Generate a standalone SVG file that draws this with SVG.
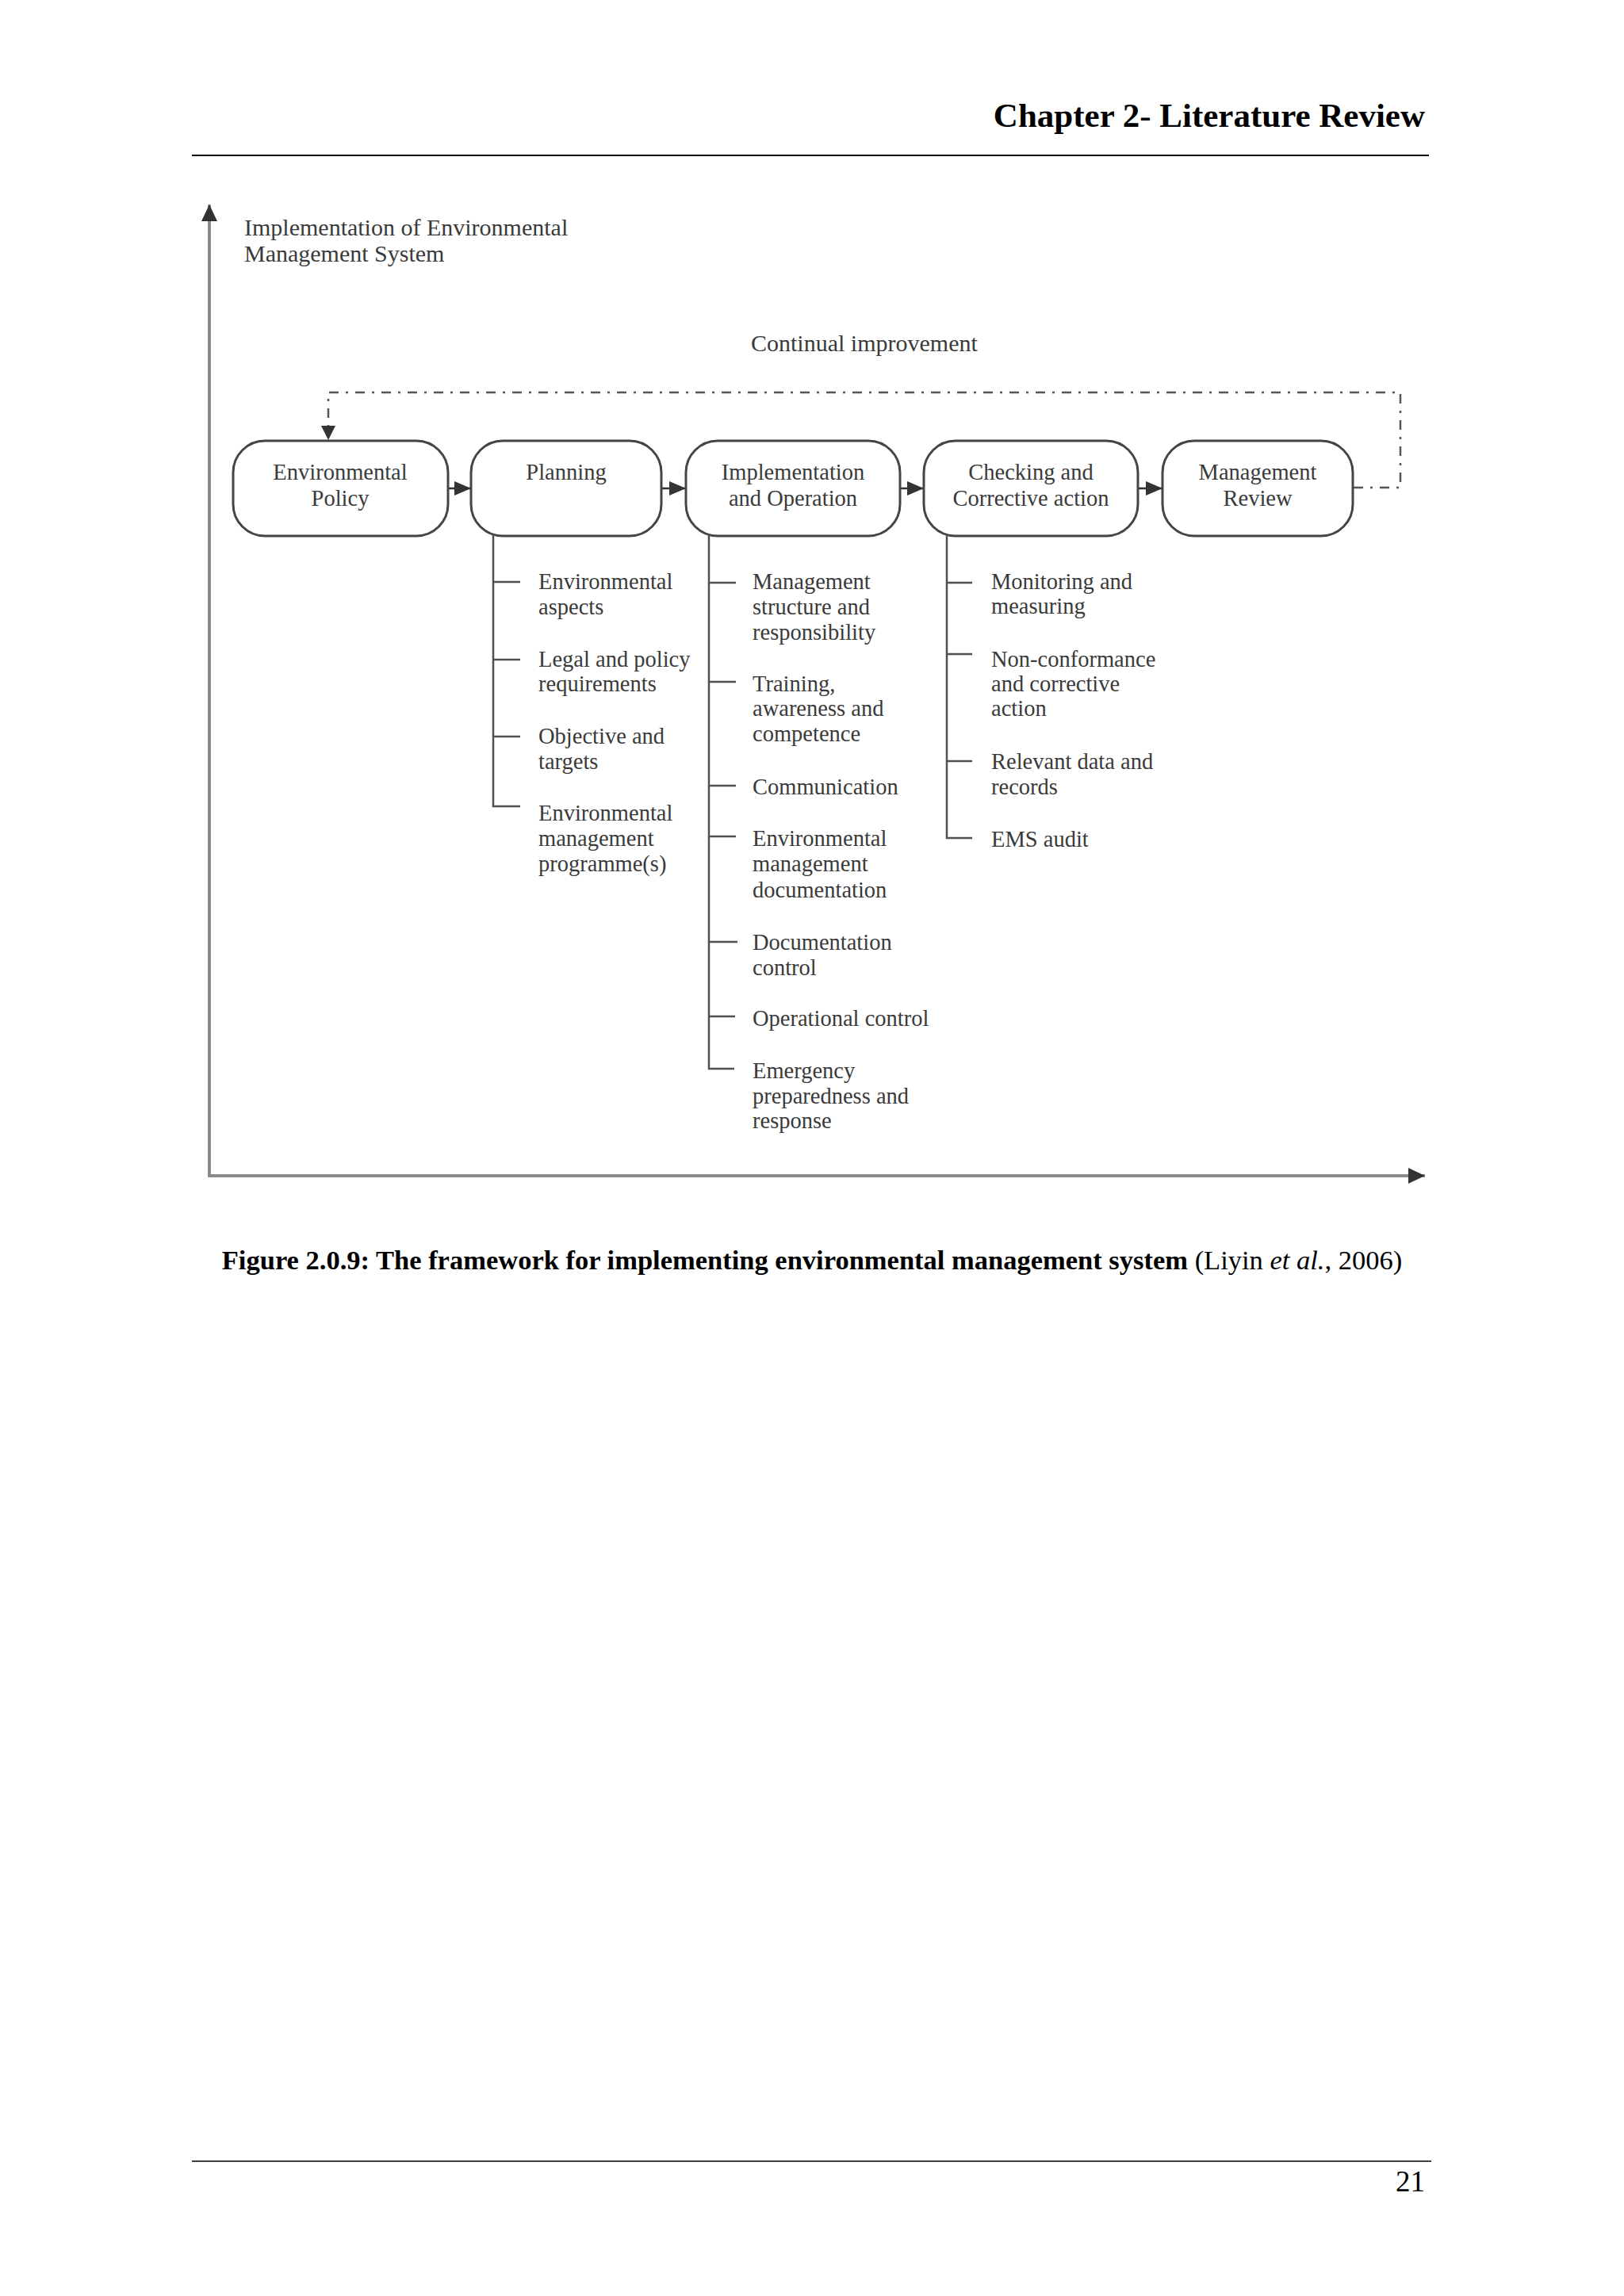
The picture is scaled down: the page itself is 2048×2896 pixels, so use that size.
<svg xmlns="http://www.w3.org/2000/svg" width="2048" height="2896" viewBox="0 0 2048 2896">
<style>
.page{font-family:"Liberation Serif","Times New Roman",serif;fill:#000}
.lbl{font-family:"Liberation Serif","Times New Roman",serif;fill:#3a3a3a;font-size:30px}
.bt{font-family:"Liberation Serif","Times New Roman",serif;fill:#3a3a3a;font-size:28.5px;text-anchor:middle}
.it{font-family:"Liberation Serif","Times New Roman",serif;fill:#3a3a3a;font-size:28.5px}
.box{fill:#fff;stroke:#454545;stroke-width:3}
.axis{stroke:#8a8a8a;stroke-width:4;fill:none}
.dd{stroke:#555;stroke-width:2.5;fill:none;stroke-dasharray:12 9 3 9}
.flow{stroke:#333;stroke-width:2.5;fill:none}
.tree{stroke:#505050;stroke-width:2.5;fill:none}
.head{fill:#333}
</style>
<defs>
<marker id="ah" markerUnits="userSpaceOnUse" markerWidth="22" markerHeight="20" refX="21" refY="9" orient="auto"><path d="M0,0 L21,9 L0,18 Z" class="head"/></marker>
<marker id="axh" markerUnits="userSpaceOnUse" markerWidth="22" markerHeight="22" refX="21" refY="10" orient="auto"><path d="M0,0 L21,10 L0,20 Z" class="head"/></marker>
</defs>
<rect width="2048" height="2896" fill="#fff"/>

<g id="header">
<text class="page" x="1797" y="160" font-size="43" font-weight="bold" text-anchor="end">Chapter 2- Literature Review</text>
<line x1="242" y1="196" x2="1802" y2="196" stroke="#000" stroke-width="2"/>
</g>

<g id="axes">
<line class="axis" x1="264" y1="1483" x2="264" y2="258" marker-end="url(#axh)"/>
<line class="axis" x1="262" y1="1483" x2="1797" y2="1483" marker-end="url(#axh)"/>
<text class="lbl" x="308" y="297">Implementation of Environmental</text>
<text class="lbl" x="308" y="330">Management System</text>
</g>

<g id="continual-label">
<text class="lbl" x="947" y="443">Continual improvement</text>
</g>

<g id="connectors">
<path class="dd" d="M1707,615 H1766 V495 H414 V540"/>
<path d="M405,537 L414,555 L423,537 Z" class="head"/>
<line class="flow" x1="565" y1="616" x2="594" y2="616" marker-end="url(#ah)"/>
<line class="flow" x1="834" y1="616" x2="865" y2="616" marker-end="url(#ah)"/>
<line class="flow" x1="1135" y1="616" x2="1165" y2="616" marker-end="url(#ah)"/>
<line class="flow" x1="1435" y1="616" x2="1466" y2="616" marker-end="url(#ah)"/>
</g>

<g id="node-policy">
<rect class="box" x="294" y="556" width="271" height="120" rx="40" ry="40"/>
<text class="bt" x="429" y="605">Environmental</text>
<text class="bt" x="429" y="638">Policy</text>
</g>
<g id="node-planning">
<rect class="box" x="594" y="556" width="240" height="120" rx="40" ry="40"/>
<text class="bt" x="714" y="605">Planning</text>
</g>
<g id="node-implementation">
<rect class="box" x="865" y="556" width="270" height="120" rx="40" ry="40"/>
<text class="bt" x="1000" y="605">Implementation</text>
<text class="bt" x="1000" y="638">and Operation</text>
</g>
<g id="node-checking">
<rect class="box" x="1165" y="556" width="270" height="120" rx="40" ry="40"/>
<text class="bt" x="1300" y="605">Checking and</text>
<text class="bt" x="1300" y="638">Corrective action</text>
</g>
<g id="node-review">
<rect class="box" x="1466" y="556" width="240" height="120" rx="40" ry="40"/>
<text class="bt" x="1586" y="605">Management</text>
<text class="bt" x="1586" y="638">Review</text>
</g>

<g id="planning-items">
<path class="tree" d="M622,674 V1017 H656 M622,734 H656 M622,832 H656 M622,929 H656"/>
<text class="it" x="679" y="743">Environmental</text>
<text class="it" x="679" y="775">aspects</text>
<text class="it" x="679" y="841">Legal and policy</text>
<text class="it" x="679" y="872">requirements</text>
<text class="it" x="679" y="938">Objective and</text>
<text class="it" x="679" y="970">targets</text>
<text class="it" x="679" y="1035">Environmental</text>
<text class="it" x="679" y="1067">management</text>
<text class="it" x="679" y="1099">programme(s)</text>
</g>

<g id="implementation-items">
<path class="tree" d="M894,674 V1348 H926 M894,735 H928 M894,860 H928 M894,991 H928 M894,1055 H928 M894,1188 H930 M894,1282 H927"/>
<text class="it" x="949" y="743">Management</text>
<text class="it" x="949" y="775">structure and</text>
<text class="it" x="949" y="807">responsibility</text>
<text class="it" x="949" y="872">Training,</text>
<text class="it" x="949" y="903">awareness and</text>
<text class="it" x="949" y="935">competence</text>
<text class="it" x="949" y="1002">Communication</text>
<text class="it" x="949" y="1067">Environmental</text>
<text class="it" x="949" y="1099">management</text>
<text class="it" x="949" y="1132">documentation</text>
<text class="it" x="949" y="1198">Documentation</text>
<text class="it" x="949" y="1230">control</text>
<text class="it" x="949" y="1294">Operational control</text>
<text class="it" x="949" y="1360">Emergency</text>
<text class="it" x="949" y="1392">preparedness and</text>
<text class="it" x="949" y="1423">response</text>
</g>

<g id="checking-items">
<path class="tree" d="M1194,674 V1057 H1226 M1194,735 H1226 M1194,825 H1226 M1194,960 H1226"/>
<text class="it" x="1250" y="743">Monitoring and</text>
<text class="it" x="1250" y="774">measuring</text>
<text class="it" x="1250" y="841">Non-conformance</text>
<text class="it" x="1250" y="872">and corrective</text>
<text class="it" x="1250" y="903">action</text>
<text class="it" x="1250" y="970">Relevant data and</text>
<text class="it" x="1250" y="1002">records</text>
<text class="it" x="1250" y="1068">EMS audit</text>
</g>

<g id="caption">
<text class="page" x="1024" y="1601" font-size="34.5" text-anchor="middle"><tspan font-weight="bold">Figure 2.0.9: The framework for implementing environmental management system</tspan> (Liyin <tspan font-style="italic">et al.</tspan>, 2006)</text>
</g>

<g id="footer">
<line x1="242" y1="2726" x2="1805" y2="2726" stroke="#000" stroke-width="1.5"/>
<text class="page" x="1797" y="2764" font-size="37" text-anchor="end">21</text>
</g>
</svg>
